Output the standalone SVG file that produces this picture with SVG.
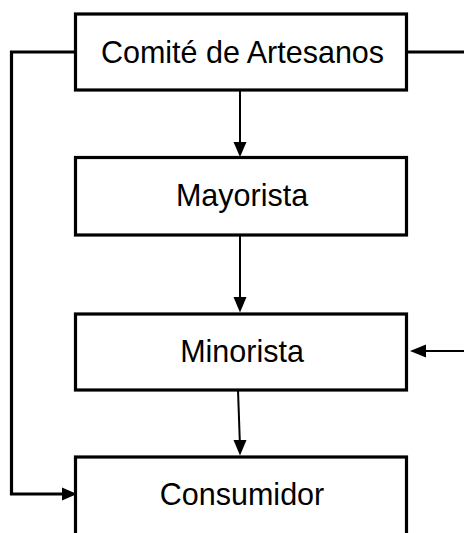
<svg xmlns="http://www.w3.org/2000/svg" width="464" height="533" viewBox="0 0 464 533">
<defs>
<style>
.box{fill:#fff;stroke:#000;stroke-width:3.2}
.lbl{font-family:"Liberation Sans",Arial,sans-serif;font-size:30.5px;fill:#000;text-anchor:middle}
.con{fill:none;stroke:#000;stroke-width:3.2}
.thin{fill:none;stroke:#000;stroke-width:2}
</style>
</defs>
<g id="connectors">
<polyline class="con" points="75,52 11.5,52 11.5,494 62,494"/>
<path d="M62,487.5 L77,494 L62,500.5 Z" fill="#000"/>
<line class="con" x1="407" y1="52" x2="464" y2="52"/>
<line class="thin" x1="464" y1="351" x2="425" y2="351"/>
<path d="M426,344.5 L410,351 L426,357.5 Z" fill="#000"/>
<line class="thin" x1="240" y1="90" x2="240" y2="143"/>
<path d="M233.5,142 L240,157 L246.5,142 Z" fill="#000"/>
<line class="thin" x1="240" y1="235" x2="240" y2="298"/>
<path d="M233.5,297 L240,312.5 L246.5,297 Z" fill="#000"/>
<line class="thin" x1="238" y1="390" x2="239.8" y2="441"/>
<path d="M233.5,440 L240,455.5 L246.5,440 Z" fill="#000"/>
</g>
<g id="node-comite">
<rect class="box" x="75.5" y="14" width="331" height="76"/>
<text class="lbl" x="242.5" y="63">Comité de Artesanos</text>
</g>
<g id="node-mayorista">
<rect class="box" x="75.5" y="157.5" width="331" height="77.5"/>
<text class="lbl" x="242" y="206">Mayorista</text>
</g>
<g id="node-minorista">
<rect class="box" x="75.5" y="314" width="331" height="76"/>
<text class="lbl" x="242" y="362">Minorista</text>
</g>
<g id="node-consumidor">
<rect class="box" x="75.5" y="457" width="331" height="90"/>
<text class="lbl" x="242" y="505">Consumidor</text>
</g>
</svg>
